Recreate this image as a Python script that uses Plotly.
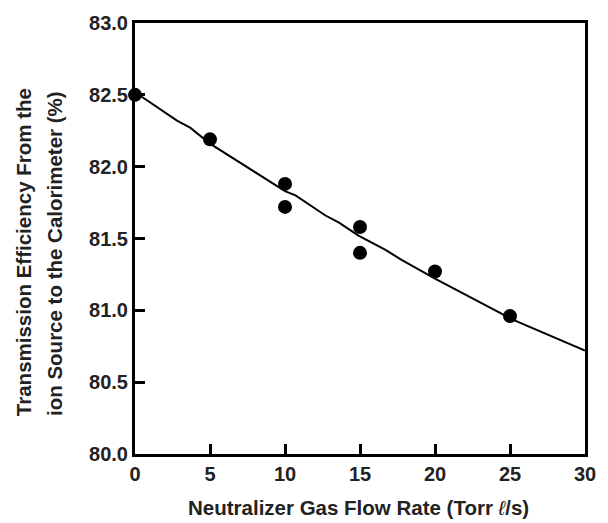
import plotly.graph_objects as go

# Measured data points
flow_pts = [0, 5, 10, 10, 15, 15, 20, 25]
eff_pts = [82.50, 82.19, 81.88, 81.72, 81.58, 81.40, 81.27, 80.96]

flow_fit = [0.4, 2.8, 3.7, 5, 10, 10.7, 12.7, 13.6, 14.9, 16.7, 17.8, 20, 25.3, 28.6, 30]
eff_fit = [82.49, 82.32, 82.27, 82.16, 81.83, 81.80, 81.66, 81.61, 81.52, 81.42, 81.35, 81.22, 80.93, 80.78, 80.72]

x_ticks = [0, 5, 10, 15, 20, 25, 30]
y_ticks = [80.0, 80.5, 81.0, 81.5, 82.0, 82.5, 83.0]

x_title = ("Neutralizer Gas Flow Rate (Torr "
           "<span style='font-weight:normal;font-style:italic'>\u2113</span>/s)")
y_title_1 = "Transmission Efficiency From the"
y_title_2 = "ion Source to the Calorimeter (%)"

FONT = "Liberation Sans, Arial, sans-serif"
TXT = "#222222"

fig = go.Figure()
fig.add_trace(go.Scatter(x=flow_fit, y=eff_fit, mode="lines",
                         line=dict(color="black", width=2), showlegend=False,
                         cliponaxis=False))
fig.add_trace(go.Scatter(x=flow_pts, y=eff_pts, mode="markers",
                         marker=dict(color="black", size=14, symbol="circle"),
                         showlegend=False, cliponaxis=False))

axis_common = dict(showgrid=False, zeroline=False, showline=True, linecolor="black",
                   linewidth=3, mirror=True, ticks="inside", ticklen=10, tickwidth=3,
                   tickcolor="black",
                   tickfont=dict(family=FONT, size=20, color=TXT, weight="bold"))

fig.update_xaxes(range=[0, 30], tickvals=x_ticks, ticktext=[str(v) for v in x_ticks], **axis_common)
fig.update_yaxes(range=[80, 83], tickvals=y_ticks, ticktext=[f"{v:.1f}" for v in y_ticks], **axis_common)

title_font = dict(family=FONT, size=20.5, color=TXT, weight="bold")
fig.add_annotation(text=x_title, xref="paper", yref="paper",
                   x=0.497, y=-0.125, xanchor="center", yanchor="middle", showarrow=False,
                   font=title_font)
fig.add_annotation(text=y_title_1, xref="paper", yref="paper",
                   x=-0.246, y=0.469, xanchor="center", yanchor="middle", showarrow=False,
                   textangle=-90, font=title_font)
fig.add_annotation(text=y_title_2, xref="paper", yref="paper",
                   x=-0.18, y=0.464, xanchor="center", yanchor="middle", showarrow=False,
                   textangle=-90, font=title_font)

fig.update_layout(width=608, height=523, margin=dict(l=135, r=21, t=23, b=69),
                  plot_bgcolor="white", paper_bgcolor="white",
                  font=dict(family=FONT, color=TXT))

fig.write_html("out.html", config={"displayModeBar": False},
               post_script="document.body.style.margin='0';")
